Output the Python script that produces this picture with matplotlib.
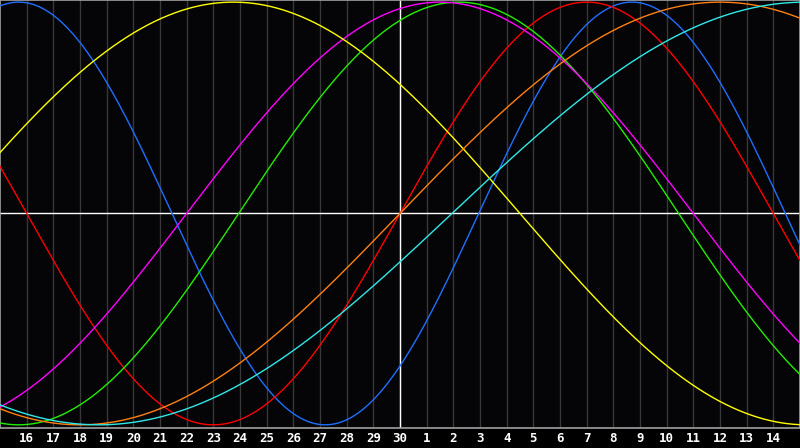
import numpy as np
import matplotlib
matplotlib.use("Agg")
import matplotlib.pyplot as plt

# day labels along the bottom (15th of one month to 15th of the next)
day_labels = [str(d) for d in range(16, 31)] + [str(d) for d in range(1, 15)]

# cycle lengths (days) and the day index of each cycle's peak
periods = [23, 28, 33, 38, 43, 48, 53]
peak_day = [0.7, 22.0, 17.2, 16.5, 8.75, 27.0, 30.2]
colors = ["#1f6fff", "#ff0000", "#22ee00", "#ff00ff", "#ffff00", "#ff8010", "#30e8e8"]

n_days = 30
today = 15

fig = plt.figure(figsize=(8, 4.48), dpi=100)
fig.patch.set_facecolor("#000000")
ax = fig.add_axes([0, 20 / 448, 1, 428 / 448])
ax.set_facecolor("#050508")

t = np.linspace(0, n_days, 1200)

# vertical day grid
for k in range(1, n_days):
    ax.axvline(k, color="#383838", lw=1, zorder=1)

for p, pk, c in zip(periods, peak_day, colors):
    ax.plot(t, np.cos(2 * np.pi * (t - pk) / p), color=c, lw=1, zorder=3)

ax.axhline(0, color="white", lw=1, zorder=2)
ax.axvline(today, color="white", lw=1, zorder=2)

ax.set_xlim(0, n_days)
ax.set_ylim(-1.015, 1.01)
ax.set_xticks([])
ax.set_yticks([])
for side in ["top", "left", "right", "bottom"]:
    ax.spines[side].set_color("#a0a0a0")
    ax.spines[side].set_linewidth(1.2)

for k, lab in enumerate(day_labels, start=1):
    fig.text(k / n_days, 10 / 448, lab, color="white", ha="center", va="center",
             fontsize=9, fontweight="bold", family="DejaVu Sans Mono")

fig.savefig("out.png", dpi=100, facecolor=fig.get_facecolor())
